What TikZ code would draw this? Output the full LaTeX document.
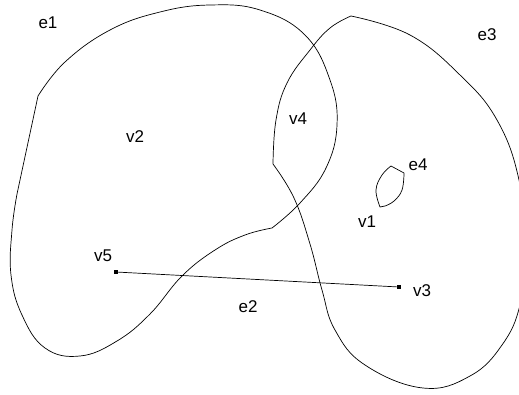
\documentclass[tikz,border=0pt]{standalone}
\usepackage{fontspec}
\setmainfont{Liberation Sans}
\usetikzlibrary{positioning}

\begin{document}
\begin{tikzpicture}[
  x=1pt, y=-1pt,
  font=\fontsize{17}{20}\selectfont,
  edgeline/.style={draw, line width=0.7pt, line join=round},
  lbl/.style={inner sep=0pt, anchor=center},
  dot/.style={rectangle, fill, inner sep=0pt, minimum size=4pt},
]
\useasboundingbox (0,0) rectangle (519,394);

% hyperedge e1
\draw[edgeline] plot[smooth, tension=0.7] coordinates {(38,96) (65,62) (110,30) (160,12) (210,5) (260,10) (305,35) (330,80) (337,125) (326,168) (300,203) (272,228)}
  -- plot[smooth, tension=0.7] coordinates {(272,228) (245,235) (215,250) (182,276) (150,314) (117,341) (80,356) (45,348) (22,315) (11,275) (12,230) (17,194)}
  -- cycle;

% hyperedge e3
\draw[edgeline] plot[smooth, tension=0.7] coordinates {(351,16) (330,28) (310,50) (287,83) (276,120) (273,164)}
  -- plot[smooth, tension=0.7] coordinates {(273,164) (294,198) (310,244) (322,290) (335,330) (365,365) (423,388) (470,376) (502,345) (520,305) (526,250) (519,180) (497,120) (460,75) (410,35) (351,16)}
  -- cycle;

% hyperedge e4
\draw[edgeline] plot[smooth, tension=0.7] coordinates {(380,207) (376,190) (382,175) (391,166)}
  -- plot[smooth, tension=0.7] coordinates {(404,173) (402,190) (394,201) (385,206)}
  -- cycle;

% vertices
\node[dot] (p5) at (116,272) {};
\node[dot] (p3) at (399,287) {};

% hyperedge e2
\draw[line width=0.7pt] (p5) -- (p3);

% labels
\node[lbl] (e1) at (48,23) {e1};
\node[lbl] (e2) at (248,307) {e2};
\node[lbl] (e3) at (487,35) {e3};
\node[lbl] (e4) at (418,165) {e4};
\node[lbl] (v1) at (367,222) {v1};
\node[lbl] (v2) at (135,137) {v2};
\node[lbl] (v3) at (422,291) {v3};
\node[lbl] (v4) at (298,119) {v4};
\node[lbl] (v5) at (103,256) {v5};

\end{tikzpicture}
\end{document}
